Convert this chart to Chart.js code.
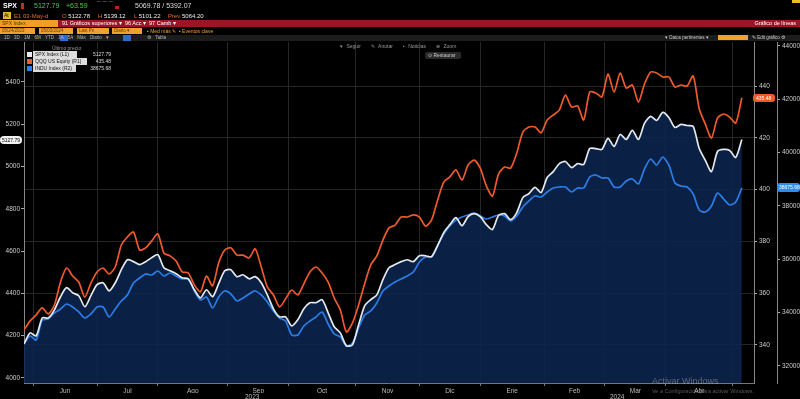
<!DOCTYPE html>
<html>
<head>
<meta charset="utf-8">
<script src="https://cdn.jsdelivr.net/npm/chart.js@4.4.1/dist/chart.umd.min.js"></script>
<style>
  body { margin: 0; background: #000; font-family: "Liberation Sans", Arial, sans-serif; }
  #wrap { position: relative; width: 800px; height: 399px; overflow: hidden; background: #000; }
  #myChart { position: absolute; left: 0; top: 0; }
  .t { position: absolute; white-space: nowrap; line-height: 1; }
  .box { position: absolute; }
</style>
</head>
<body>
<div id="wrap">
  <canvas id="myChart" width="800" height="399"></canvas>

  <!-- cabecera tipo terminal -->
  <div class="t" style="left:3px;top:2px;font-size:7px;color:#fff;font-weight:bold">SPX</div>
  <div class="box" style="left:21px;top:3px;width:3px;height:6px;background:#d42525"></div>
  <div class="t" style="left:34px;top:2px;font-size:7px;color:#3fd24a">5127.79</div>
  <div class="t" style="left:66px;top:2px;font-size:7px;color:#3fd24a">+63.59</div>
  <div class="t" style="left:96px;top:1px;font-size:6px;color:#ccc">⌒⌒⌒</div>
  <div class="box" style="left:115px;top:6px;width:4px;height:3px;background:#c02020"></div>
  <div class="t" style="left:135px;top:2px;font-size:7px;color:#ddd">5069.78 / 5392.07</div>
  <div class="box" style="left:792px;top:0px;width:8px;height:3px;background:#e8c020"></div>

  <div class="box" style="left:3px;top:12px;width:8px;height:7px;background:#e8b820"></div>
  <div class="t" style="left:4px;top:13px;font-size:5px;color:#000">At</div>
  <div class="t" style="left:14px;top:13px;font-size:6px;color:#e0702e">E1 03-May-d</div>
  <div class="t" style="left:62px;top:13px;font-size:6px;color:#e0702e">O <span style="color:#eee">5122.78</span></div>
  <div class="t" style="left:98px;top:13px;font-size:6px;color:#e0702e">H <span style="color:#eee">5139.12</span></div>
  <div class="t" style="left:134px;top:13px;font-size:6px;color:#e0702e">L <span style="color:#eee">5101.22</span></div>
  <div class="t" style="left:168px;top:13px;font-size:6px;color:#e0702e">Prev <span style="color:#eee">5064.20</span></div>

  <div class="box" style="left:0;top:20px;width:800px;height:7px;background:#9c1526"></div>
  <div class="box" style="left:0;top:20px;width:58px;height:7px;background:#f0a020"></div>
  <div class="t" style="left:2px;top:21px;font-size:5px;color:#5a3000">SPX Index</div>
  <div class="t" style="left:62px;top:21px;font-size:5.5px;color:#fff">91 Gráficos superiores ▾ &nbsp;96 Acc ▾ &nbsp;97 Camb ▾</div>
  <div class="t" style="right:4px;top:21px;font-size:5.5px;color:#fff">Gráfico de líneas</div>

  <div class="box" style="left:0;top:28px;width:35px;height:6px;background:#f0a030"></div>
  <div class="box" style="left:39px;top:28px;width:34px;height:6px;background:#f0a030"></div>
  <div class="box" style="left:77px;top:28px;width:32px;height:6px;background:#f0a030"></div>
  <div class="box" style="left:112px;top:28px;width:30px;height:6px;background:#f0a030"></div>
  <div class="t" style="left:2px;top:29px;font-size:4.5px;color:#6a3a00">05/24/2023</div>
  <div class="t" style="left:41px;top:29px;font-size:4.5px;color:#6a3a00">05/03/2024</div>
  <div class="t" style="left:79px;top:29px;font-size:4.5px;color:#6a3a00">Last Px</div>
  <div class="t" style="left:114px;top:29px;font-size:4.5px;color:#6a3a00">Diario ▾</div>
  <div class="t" style="left:147px;top:29px;font-size:5px;color:#f0a030">▪ Med más ✎ &nbsp;▪ Eventos clave</div>

  <div class="box" style="left:0;top:35px;width:800px;height:6px;background:#1c1c1c"></div>
  <div class="box" style="left:60px;top:35px;width:8px;height:6px;background:#2a6fd0"></div>
  <div class="box" style="left:123px;top:35px;width:8px;height:6px;background:#2a6fd0"></div>
  <div class="t" style="left:4px;top:36px;font-size:4.5px;color:#bbb;word-spacing:3px">1D 3D 1M 6M YTD 1A 5A Máx Diario ▾ &nbsp; &nbsp; &nbsp; &nbsp; ⚙ Tabla</div>
  <div class="t" style="left:665px;top:36px;font-size:4.5px;color:#ccc">▾ Datos pertinentes ▾</div>
  <div class="box" style="left:718px;top:35px;width:30px;height:5px;background:#f0a030"></div>
  <div class="t" style="left:752px;top:36px;font-size:4.5px;color:#ccc">✎ Edit gráfico ⚙</div>

  <!-- herramientas del gráfico -->
  <div class="t" style="left:340px;top:44px;font-size:5px;color:#999;word-spacing:2px">▾ Seguir &nbsp; ✎ Anotar &nbsp; ▪ Noticias &nbsp; ⊕ Zoom</div>
  <div class="box" style="left:425px;top:52px;width:36px;height:7px;background:#2a2a2a;border-radius:2px"></div>
  <div class="t" style="left:428px;top:53px;font-size:5px;color:#ccc">⊙ Restaurar</div>

  <!-- leyenda -->
  <div class="t" style="left:52px;top:46px;font-size:5px;color:#999">Último precio</div>
  <div class="box" style="left:27px;top:52px;width:5px;height:5px;background:#e6ecf2"></div>
  <div class="box" style="left:27px;top:59px;width:5px;height:5px;background:#ee5a2c"></div>
  <div class="box" style="left:27px;top:66px;width:5px;height:5px;background:#2b7ee6"></div>
  <div class="box" style="left:33px;top:51px;width:44px;height:7px;background:#dcdcdc"></div>
  <div class="box" style="left:33px;top:58px;width:54px;height:7px;background:#dcdcdc"></div>
  <div class="box" style="left:33px;top:65px;width:43px;height:7px;background:#dcdcdc"></div>
  <div class="t" style="left:35px;top:52px;font-size:5px;color:#111">SPX Index (L1)</div>
  <div class="t" style="left:35px;top:59px;font-size:5px;color:#111">QQQ US Equity (R1)</div>
  <div class="t" style="left:35px;top:66px;font-size:5px;color:#111">INDU Index (R2)</div>
  <div class="t" style="right:689px;top:52px;font-size:5px;color:#ddd">5127.79</div>
  <div class="t" style="right:689px;top:59px;font-size:5px;color:#ddd">435.48</div>
  <div class="t" style="right:689px;top:66px;font-size:5px;color:#ddd">38675.68</div>

  <!-- etiquetas de último precio -->
  <div class="box" style="left:0;top:136px;width:22px;height:8px;background:#f2f2f2;border-radius:4px"></div>
  <div class="t" style="left:2px;top:138px;font-size:5px;color:#000">5127.79</div>
  <div class="box" style="left:753px;top:94px;width:22px;height:8px;background:#ee5a2c;border-radius:3px"></div>
  <div class="t" style="left:756px;top:96px;font-size:5px;color:#fff">435.48</div>
  <div class="box" style="left:777px;top:183px;width:23px;height:9px;background:#2f8cf0;border-radius:3px"></div>
  <div class="t" style="left:779px;top:185px;font-size:5px;color:#fff">38675.68</div>

  <!-- marca de agua -->
  <div class="t" style="left:652px;top:377px;font-size:9px;color:rgba(190,190,190,0.45)">Activar Windows</div>
  <div class="t" style="left:652px;top:389px;font-size:5.5px;color:rgba(190,190,190,0.45)">Ve a Configuración para activar Windows.</div>
</div>

<script>
// una muestra cada 2 sesiones desde el 26-may-2023 hasta el 03-may-2024
const spx = [4161, 4213, 4199, 4284, 4284, 4322, 4384, 4427, 4403, 4389,
  4337, 4389, 4441, 4450, 4412, 4450, 4512, 4559, 4550, 4536,
  4550, 4569, 4583, 4521, 4507, 4493, 4474, 4469, 4417, 4379,
  4417, 4384, 4446, 4507, 4512, 4479, 4488, 4469, 4479, 4450,
  4393, 4327, 4289, 4289, 4246, 4275, 4327, 4356, 4356, 4370,
  4308, 4242, 4213, 4152, 4156, 4251, 4341, 4370, 4393, 4465,
  4521, 4536, 4550, 4559, 4550, 4578, 4578, 4574, 4626, 4687,
  4725, 4758, 4720, 4763, 4777, 4763, 4725, 4702, 4768, 4777,
  4749, 4782, 4853, 4872, 4901, 4877, 4948, 4976, 5014, 5024,
  4995, 5014, 5010, 5085, 5085, 5081, 5133, 5095, 5152, 5128,
  5171, 5128, 5204, 5237, 5218, 5256, 5232, 5185, 5199, 5194,
  5190, 5085, 5029, 4976, 5071, 5081, 5076, 5043, 5127.79];

const qqq = [345.8, 349.3, 351.6, 354.3, 352.0, 355.4, 364.3, 369.7, 366.6, 364.3,
  358.5, 363.9, 368.2, 369.7, 367.4, 370.1, 378.6, 381.7, 383.6, 376.7,
  377.5, 380.2, 382.9, 375.5, 374.4, 372.4, 368.2, 367.8, 363.2, 360.5,
  366.6, 362.8, 371.7, 376.7, 377.5, 374.7, 374.7, 373.6, 377.1, 370.1,
  362.4, 359.3, 354.7, 357.8, 361.2, 359.3, 363.6, 368.2, 370.1, 367.8,
  364.3, 358.1, 353.5, 345.0, 348.5, 355.4, 363.6, 370.9, 374.4, 380.5,
  385.2, 386.3, 389.4, 389.4, 390.2, 389.4, 385.9, 388.3, 396.0, 402.9,
  404.9, 407.6, 403.7, 409.5, 411.4, 408.3, 401.4, 397.5, 406.0, 408.7,
  408.3, 414.1, 422.2, 424.2, 424.2, 421.9, 426.9, 428.8, 430.7, 436.5,
  431.9, 432.3, 426.9, 437.7, 437.3, 435.8, 444.6, 437.7, 445.0, 439.2,
  440.4, 433.8, 440.8, 445.4, 445.0, 443.5, 443.5, 439.6, 440.4, 440.0,
  443.9, 431.1, 425.3, 419.9, 427.6, 429.2, 428.0, 425.7, 435.48];

const indu = [32825, 33125, 32975, 33725, 33763, 33988, 34138, 34325, 34213, 34025,
  33800, 33950, 34213, 34213, 33838, 34138, 34438, 34663, 35113, 35300,
  35450, 35413, 35563, 35375, 35488, 35375, 35263, 35263, 34813, 34475,
  34588, 34175, 34588, 34813, 34700, 34438, 34550, 34700, 34813, 34663,
  34400, 34063, 33800, 33688, 33163, 33163, 33500, 33688, 33838, 34025,
  33575, 33200, 33088, 32750, 32863, 33425, 33913, 34063, 34363, 34813,
  35000, 35150, 35263, 35375, 35525, 35900, 36088, 36088, 36538, 36950,
  37250, 37475, 37588, 37663, 37738, 37625, 37513, 37588, 37663, 37625,
  37438, 37625, 37963, 38188, 38375, 38338, 38525, 38675, 38713, 38713,
  38525, 38675, 38675, 39088, 39163, 39050, 39050, 38713, 38713, 38938,
  39013, 38825, 39388, 39763, 39538, 39838, 39538, 38863, 38750, 38713,
  38450, 37850, 37775, 38000, 38488, 38263, 38038, 38150, 38675.68];

// sesión (índice de día hábil) de cada muestra
const sessions = spx.map((_, i) => i * 2);

// primer día hábil de cada mes (índice de sesión)
const monthStarts = [3, 24, 44, 67, 87, 109, 130, 150, 171, 191, 211, 233];
const monthLabels = ['Jun', 'Jul', 'Ago', 'Sep', 'Oct', 'Nov', 'Dic', 'Ene', 'Feb', 'Mar', 'Abr'];
const yearPos = [75, 195];
const yearLabels = ['2023', '2024'];

const leftTicks = [4000, 4200, 4400, 4600, 4800, 5000, 5200, 5400];
const r1Ticks = [340, 360, 380, 400, 420, 440];
const r2Ticks = [32000, 34000, 36000, 38000, 40000, 42000, 44000];

const monthMid = monthLabels.map((_, i) => (monthStarts[i] + monthStarts[i + 1]) / 2);

const tickFont = { family: 'Liberation Sans', size: 6.5 };

function setTicks(list) {
  return axis => { axis.ticks = list.map(v => ({ value: v })); };
}

const config = {
  type: 'line',
  data: {
    labels: sessions,
    datasets: [
      {
        label: 'SPX Index (L1)',
        data: spx,
        yAxisID: 'y',
        borderColor: '#e3e9f0',
        backgroundColor: 'rgba(12, 36, 78, 0.88)',
        fill: 'start',
        order: 0
      },
      {
        label: 'QQQ US Equity (R1)',
        data: qqq,
        yAxisID: 'y1',
        borderColor: '#ee5a2c',
        fill: false,
        order: 1
      },
      {
        label: 'INDU Index (R2)',
        data: indu,
        yAxisID: 'y2',
        borderColor: '#2b7ee6',
        fill: false,
        order: 2
      }
    ]
  },
  options: {
    responsive: false,
    animation: false,
    layout: { padding: { top: 42, left: 0, right: 0, bottom: 0 } },
    elements: {
      point: { radius: 0 },
      line: { borderWidth: 1.7, tension: 0.25 }
    },
    plugins: {
      legend: { display: false },
      tooltip: { enabled: false },
      filler: { drawTime: 'beforeDatasetsDraw' }
    },
    scales: {
      x: {
        type: 'linear', position: 'bottom', min: 0, max: 240,
        afterBuildTicks: setTicks(monthStarts),
        ticks: { display: false },
        grid: { color: '#262626', tickLength: 3, tickColor: '#777' },
        border: { color: '#777' },
        afterFit: a => { a.height = 3; }
      },
      x2: {
        type: 'linear', position: 'bottom', min: 0, max: 240,
        afterBuildTicks: setTicks(monthMid),
        ticks: {
          autoSkip: false, maxRotation: 0, padding: 1, color: '#bbb', font: tickFont,
          callback: (v, i) => monthLabels[i]
        },
        grid: { display: false, drawTicks: false },
        border: { display: false },
        afterFit: a => { a.height = 7; }
      },
      x3: {
        type: 'linear', position: 'bottom', min: 0, max: 240,
        afterBuildTicks: setTicks(yearPos),
        ticks: {
          autoSkip: false, maxRotation: 0, padding: 0, color: '#bbb', font: tickFont,
          callback: (v, i) => yearLabels[i]
        },
        grid: { display: false, drawTicks: false },
        border: { display: false },
        afterFit: a => { a.height = 6; }
      },
      y: {
        position: 'left', min: 3976, max: 5589,
        afterBuildTicks: setTicks(leftTicks),
        ticks: { color: '#ccc', font: tickFont, padding: 1, callback: v => String(v) },
        grid: { drawOnChartArea: false, tickLength: 3, tickColor: '#aaa' },
        border: { color: '#888' },
        afterFit: a => { a.width = 24; }
      },
      y1: {
        position: 'right', min: 325.3, max: 457,
        afterBuildTicks: setTicks(r1Ticks),
        ticks: { color: '#ccc', font: tickFont, padding: 2, callback: v => String(v) },
        grid: { color: '#262626', tickLength: 3, tickColor: '#aaa' },
        border: { color: '#888' },
        afterFit: a => { a.width = 23; }
      },
      y2: {
        position: 'right', min: 31362, max: 44150,
        afterBuildTicks: setTicks(r2Ticks),
        ticks: { color: '#ccc', font: tickFont, padding: 2, callback: v => String(v) },
        grid: { drawOnChartArea: false, tickLength: 3, tickColor: '#aaa' },
        border: { color: '#888' },
        afterFit: a => { a.width = 23; }
      }
    }
  }
};

const ctx = document.getElementById('myChart');
const myChart = new Chart(ctx, config);
</script>
</body>
</html>
